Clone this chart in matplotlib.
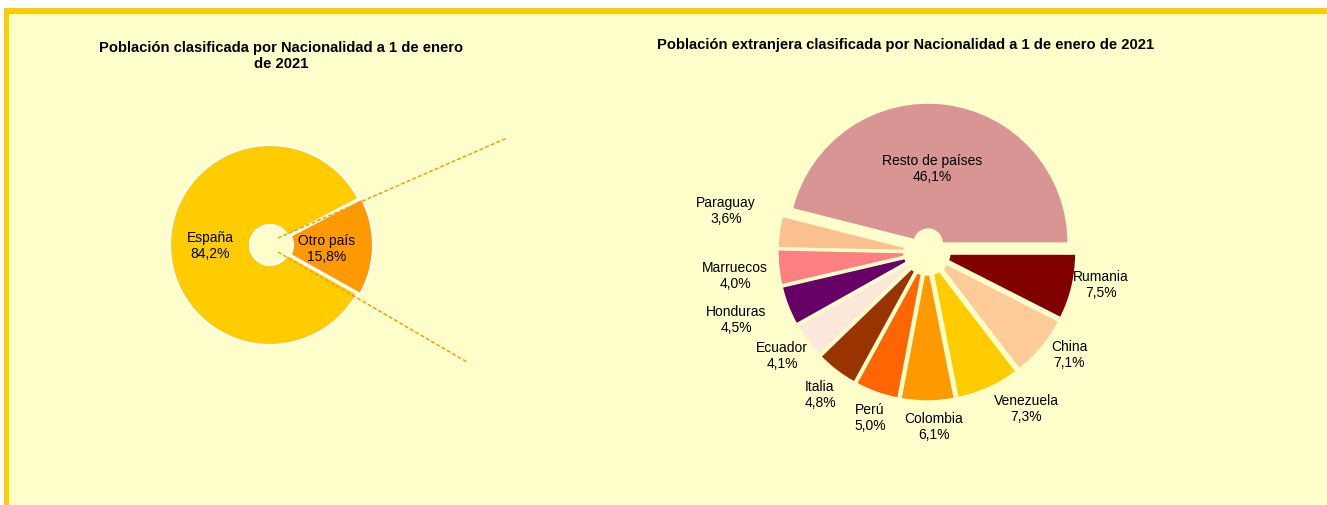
import matplotlib
matplotlib.use("Agg")
import matplotlib.pyplot as plt
from matplotlib.patches import Rectangle

plt.rcParams['font.family'] = ['Liberation Sans', 'DejaVu Sans']

# left chart
total_labels = ["España", "Otro país"]
total_values = [84.2, 15.8]
total_colors = ["#FFCC00", "#FF9900"]

# right chart (clockwise from 3 o'clock)
nat_labels = ["Rumania", "China", "Venezuela", "Colombia", "Perú", "Italia",
              "Ecuador", "Honduras", "Marruecos", "Paraguay", "Resto de países"]
nat_values = [7.5, 7.1, 7.3, 6.1, 5.0, 4.8, 4.1, 4.5, 4.0, 3.6, 46.1]
nat_colors = ["#800000", "#FFCC99", "#FFCC00", "#FF9900", "#FF6600", "#993300",
              "#FDE9D9", "#660066", "#FF8080", "#FAC090", "#D99594"]

W, H = 1327, 505
bg = "#FFFFCC"
gold = "#FFCC00"

fig = plt.figure(figsize=(W / 100, H / 100), dpi=100)
ax = fig.add_axes([0, 0, 1, 1])

def Y(y):
    # picture rows -> axes y
    return H - y

# frame
ax.add_patch(Rectangle((4, 0), W, Y(8), facecolor=gold, edgecolor="none", zorder=0))
ax.add_patch(Rectangle((9, 0), W, Y(14), facecolor=bg, edgecolor="none", zorder=0))

def fmt(v):
    return ("%.1f%%" % v).replace(".", ",")

# ---- left doughnut (explode is in data units here)
ax.pie(total_values, colors=total_colors, startangle=27.6, counterclock=True,
       center=(270, Y(245)), radius=100, explode=[0, 3],
       wedgeprops=dict(width=80, edgecolor="white", linewidth=1.5))
for lab, v, (x, y) in zip(total_labels, total_values, [(210, 246), (327, 249)]):
    ax.text(x, Y(y), lab + "\n" + fmt(v), ha="center", va="center", fontsize=10,
            linespacing=1.15, zorder=5)

# dashed connectors to the right chart
ax.plot([278, 507], [Y(238), Y(138)], ls=(0, (2.5, 1.5)), color="#FF9900", lw=1.1)
ax.plot([278, 467], [Y(252), Y(362)], ls=(0, (2.5, 1.5)), color="#FF9900", lw=1.1)

ax.text(281, Y(56), "Población clasificada por Nacionalidad a 1 de enero\nde 2021",
        ha="center", va="center", fontsize=10.6, fontweight="bold", linespacing=1.2)

# ---- right doughnut
ax.pie(nat_values, colors=nat_colors, startangle=0, counterclock=False,
       center=(927, Y(252)), radius=140, explode=[9] * len(nat_values),
       wedgeprops=dict(width=126, edgecolor=bg, linewidth=1))
label_xy = [(1101, 285), (1069, 355), (1026, 409), (934, 427), (870, 418), (820, 395),
            (782, 356), (736, 320), (735, 276), (726, 211), (932, 169)]
for lab, v, (x, y) in zip(nat_labels, nat_values, label_xy):
    ax.text(x, Y(y), lab + "\n" + fmt(v), ha="center", va="center", fontsize=10,
            linespacing=1.15, zorder=5)

ax.text(906, Y(45), "Población extranjera clasificada por Nacionalidad a 1 de enero de 2021",
        ha="center", va="center", fontsize=10.6, fontweight="bold")

ax.set_xlim(0, W)
ax.set_ylim(0, H)
ax.set_aspect("equal")
ax.axis("off")
fig.savefig("out.png", dpi=100, facecolor="white")
